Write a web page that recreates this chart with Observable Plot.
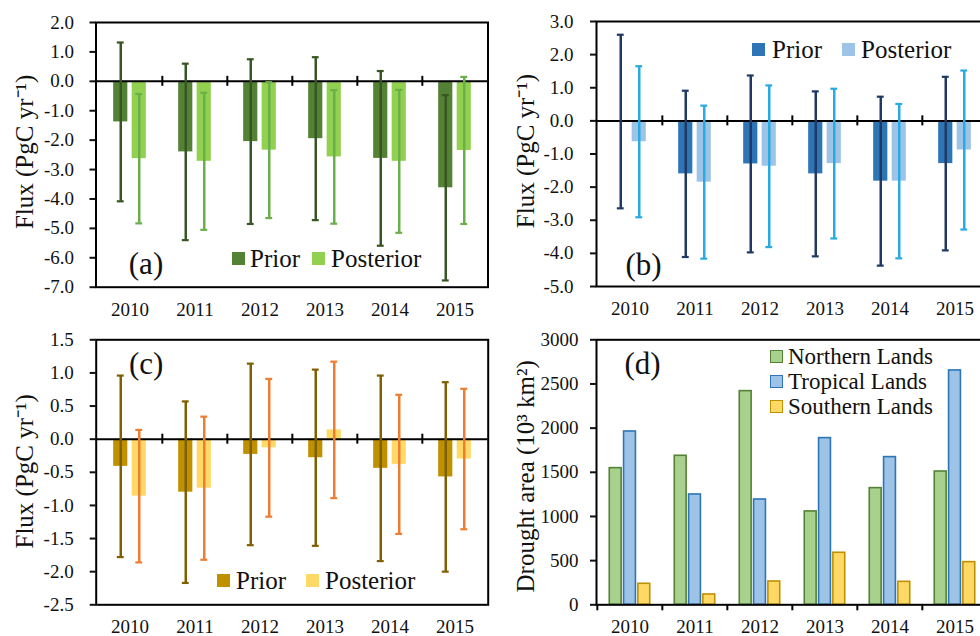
<!DOCTYPE html>
<html>
<head>
<meta charset="utf-8">
<script src="https://cdn.jsdelivr.net/npm/d3@7"></script>
<script src="https://cdn.jsdelivr.net/npm/@observablehq/plot@0.6"></script>
<style>
html, body { margin: 0; padding: 0; background: #fff; overflow: hidden; }
#fig { position: relative; width: 980px; height: 636px; overflow: hidden; font-family: "Liberation Serif", "Times New Roman", serif; color: #111; }
.panel { position: absolute; }
.leg { position: absolute; white-space: nowrap; color: #111; }
.sw { position: absolute; box-sizing: border-box; }
</style>
</head>
<body>
<div id="fig"></div>
<script>
// ---------------- data ----------------
const years = ["2010", "2011", "2012", "2013", "2014", "2015"];

// (a) Northern lands flux, PgC/yr (value and half-width of uncertainty)
const aPrior     = [-1.38, -2.40, -2.05, -1.95, -2.62, -3.62];
const aPriorErr  = [ 2.70,  3.00,  2.80,  2.77,  2.97,  3.15];
const aPost      = [-2.63, -2.72, -2.34, -2.57, -2.72, -2.35];
const aPostErr   = [ 2.20,  2.33,  2.31,  2.27,  2.43,  2.50];

// (b) Tropical lands flux
const bPrior     = [-0.02, -1.60, -1.30, -1.60, -1.82, -1.29];
const bPriorErr  = [ 2.62,  2.51,  2.67,  2.49,  2.55,  2.62];
const bPost      = [-0.63, -1.85, -1.37, -1.29, -1.82, -0.88];
const bPostErr   = [ 2.28,  2.31,  2.44,  2.26,  2.33,  2.40];

// (c) Southern lands flux
const cPrior     = [-0.41, -0.80, -0.23, -0.28, -0.44, -0.57];
const cPriorErr  = [ 1.37,  1.37,  1.37,  1.33,  1.40,  1.43];
const cPost      = [-0.86, -0.74, -0.13,  0.14, -0.38, -0.30];
const cPostErr   = [ 1.00,  1.08,  1.04,  1.03,  1.05,  1.06];

// (d) Drought area, 10^3 km^2
const northernArea = [1547, 1687, 2419, 1057, 1321, 1509];
const tropicalArea = [1962, 1249, 1192, 1887, 1672, 2653];
const southernArea = [ 238,  117,  264,  589,  260,  483];

const fluxTicksA = [2, 1, 0, -1, -2, -3, -4, -5, -6, -7];
const fluxTicksB = [3, 2, 1, 0, -1, -2, -3, -4, -5];
const fluxTicksC = [1.5, 1, 0.5, 0, -0.5, -1, -1.5, -2, -2.5];
const areaTicks  = [0, 500, 1000, 1500, 2000, 2500, 3000];

const fluxLabel = "Flux (PgC yr\u207B\u00B9)";
const areaLabel = "Drought area (10\u00B3 km\u00B2)";
const seriesNames = ["Prior", "Posterior"];
const regionNames = ["Northern Lands", "Tropical Lands", "Southern Lands"];

// ---------------- helpers ----------------
const FONT = '"Liberation Serif", "Times New Roman", serif';
const fig = document.getElementById("fig");

function place(el, left, top) {
  el.classList.add("panel");
  el.style.left = left + "px";
  el.style.top = top + "px";
  fig.appendChild(el);
}

function legendRow(items, cy, fontSize, bordered) {
  for (const it of items) {
    const sw = document.createElement("div");
    sw.className = "sw";
    sw.style.left = it.sx + "px";
    sw.style.top = (cy - 6.5) + "px";
    sw.style.width = "13px";
    sw.style.height = "13px";
    sw.style.background = it.fill;
    if (bordered) sw.style.border = "1.6px solid " + it.stroke;
    fig.appendChild(sw);
    const t = document.createElement("div");
    t.className = "leg";
    t.style.left = it.tx + "px";
    t.style.top = (cy - fontSize / 2) + "px";
    t.style.fontSize = fontSize + "px";
    t.style.lineHeight = fontSize + "px";
    t.textContent = it.label;
    fig.appendChild(t);
  }
}

function fluxPanel(cfg) {
  const {prior, priorErr, post, postErr, domain, ticks, barColors, errColors,
         width, mLeft, mRight, mTop, mBottom, tag, tagAnchor, tagDy, tickPadding, labelDy} = cfg;
  const rows = years.map((y, i) => ({year: y, prior: prior[i], pe: priorErr[i], post: post[i], qe: postErr[i]}));
  const bw = (width - mLeft - mRight) / years.length;
  const off = 9.25, half = 7.25, cap = 3.6;
  return Plot.plot({
    width, height: 318,
    marginLeft: mLeft, marginRight: mRight, marginTop: mTop, marginBottom: mBottom,
    style: {fontFamily: FONT, fontSize: "19px", color: "#111", background: "transparent", overflow: "visible"},
    x: {type: "band", domain: years, padding: 0, axis: null},
    y: {domain, axis: null},
    marks: [
      Plot.barY(rows, {x: "year", y: "prior", fill: barColors[0],
        insetLeft: bw / 2 - off - half, insetRight: bw / 2 + off - half}),
      Plot.barY(rows, {x: "year", y: "post", fill: barColors[1],
        insetLeft: bw / 2 + off - half, insetRight: bw / 2 - off - half}),
      Plot.ruleY([0], {stroke: "#000", strokeWidth: 2}),
      Plot.ruleX(years.slice(1), {x: d => d, y1: 0, y2: 0, insetTop: -5, insetBottom: -5,
        dx: -bw / 2, stroke: "#000", strokeWidth: 2}),
      // prior uncertainty
      Plot.ruleX(rows, {x: "year", y1: d => d.prior - d.pe, y2: d => d.prior + d.pe, dx: -off,
        stroke: errColors[0], strokeWidth: 2.5}),
      Plot.tickY(rows, {x: "year", y: d => d.prior + d.pe, dx: -off, insetLeft: bw / 2 - cap, insetRight: bw / 2 - cap,
        stroke: errColors[0], strokeWidth: 2.2}),
      Plot.tickY(rows, {x: "year", y: d => d.prior - d.pe, dx: -off, insetLeft: bw / 2 - cap, insetRight: bw / 2 - cap,
        stroke: errColors[0], strokeWidth: 2.2}),
      // posterior uncertainty
      Plot.ruleX(rows, {x: "year", y1: d => d.post - d.qe, y2: d => d.post + d.qe, dx: off,
        stroke: errColors[1], strokeWidth: 2.5}),
      Plot.tickY(rows, {x: "year", y: d => d.post + d.qe, dx: off, insetLeft: bw / 2 - cap, insetRight: bw / 2 - cap,
        stroke: errColors[1], strokeWidth: 2.2}),
      Plot.tickY(rows, {x: "year", y: d => d.post - d.qe, dx: off, insetLeft: bw / 2 - cap, insetRight: bw / 2 - cap,
        stroke: errColors[1], strokeWidth: 2.2}),
      Plot.frame({stroke: "#000", strokeWidth: 2}),
      Plot.axisY({ticks, tickSize: 6, tickPadding, tickFormat: d => d.toFixed(1), strokeWidth: 2, fontSize: 19, label: null}),
      Plot.axisX({tickSize: 0, tickPadding: 15, fontSize: 19, label: null}),
      Plot.text([fluxLabel], {text: d => d, frameAnchor: "left", dx: -71, dy: labelDy, rotate: -90,
        textAnchor: "middle", lineAnchor: "middle", fontSize: 25, fill: "#111"}),
      Plot.text([tag], {text: d => d, frameAnchor: tagAnchor, dx: cfg.tagDx, dy: tagDy,
        textAnchor: "middle", lineAnchor: "middle", fontSize: 31, fill: "#111"})
    ]
  });
}

// ---------------- panels ----------------
const pa = fluxPanel({
  prior: aPrior, priorErr: aPriorErr, post: aPost, postErr: aPostErr,
  domain: [-7, 2], ticks: fluxTicksA,
  barColors: ["#548235", "#92D050"], errColors: ["#375623", "#6AB04A"],
  width: 490, mLeft: 95.5, mRight: 2.5, mTop: 22, mBottom: 31.3,
  tag: "(a)", tagAnchor: "bottom-left", tagDx: 50, tagDy: -23, tickPadding: 16, labelDy: -3
});
place(pa, 0, 0);

const pb = fluxPanel({
  prior: bPrior, priorErr: bPriorErr, post: bPost, postErr: bPostErr,
  domain: [-5, 3], ticks: fluxTicksB,
  barColors: ["#2E75B6", "#9DC3E6"], errColors: ["#203864", "#29ABE2"],
  width: 510, mLeft: 106, mRight: 12, mTop: 21, mBottom: 32,
  tag: "(b)", tagAnchor: "bottom-left", tagDx: 47, tagDy: -21, tickPadding: 17, labelDy: -3
});
place(pb, 490, 0);

const pc = fluxPanel({
  prior: cPrior, priorErr: cPriorErr, post: cPost, postErr: cPostErr,
  domain: [-2.5, 1.5], ticks: fluxTicksC,
  barColors: ["#BF9000", "#FFD966"], errColors: ["#7F6000", "#ED7D31"],
  width: 490, mLeft: 95.7, mRight: 2.3, mTop: 21.3, mBottom: 31.7,
  tag: "(c)", tagAnchor: "top-left", tagDx: 50, tagDy: 24, tickPadding: 16.5, labelDy: -1
});
place(pc, 0, 318);

// (d) drought area
{
  const rows = years.map((y, i) => ({year: y, n: northernArea[i], t: tropicalArea[i], s: southernArea[i]}));
  const width = 510, mLeft = 106, mRight = 12;
  const bw = (width - mLeft - mRight) / years.length;
  const half = 6.1, step = 14.3;
  const ins = k => ({insetLeft: bw / 2 + k * step - half, insetRight: bw / 2 - k * step - half});
  const pd = Plot.plot({
    width, height: 318,
    marginLeft: mLeft, marginRight: mRight, marginTop: 21.3, marginBottom: 31.7,
    style: {fontFamily: FONT, fontSize: "19px", color: "#111", background: "transparent", overflow: "visible"},
    x: {type: "band", domain: years, padding: 0, axis: null},
    y: {domain: [0, 3000], axis: null},
    marks: [
      Plot.barY(rows, {x: "year", y: "n", fill: "#A9D18E", stroke: "#548235", strokeWidth: 1.6, ...ins(-1)}),
      Plot.barY(rows, {x: "year", y: "t", fill: "#9DC3E6", stroke: "#2E75B6", strokeWidth: 1.6, ...ins(0)}),
      Plot.barY(rows, {x: "year", y: "s", fill: "#FFD966", stroke: "#BF9000", strokeWidth: 1.6, ...ins(1)}),
      Plot.frame({stroke: "#000", strokeWidth: 2}),
      Plot.ruleX(years, {x: d => d, y1: 0, y2: 0, insetTop: 0, insetBottom: -6,
        dx: -bw / 2, stroke: "#000", strokeWidth: 2}),
      Plot.axisY({ticks: areaTicks, tickSize: 6, tickPadding: 12, tickFormat: d => String(d), strokeWidth: 2, fontSize: 19, label: null}),
      Plot.axisX({tickSize: 0, tickPadding: 15, fontSize: 19, label: null}),
      Plot.text([areaLabel], {text: d => d, frameAnchor: "left", dx: -71, dy: 4, rotate: -90,
        textAnchor: "middle", lineAnchor: "middle", fontSize: 25, fill: "#111"}),
      Plot.text(["(d)"], {text: d => d, frameAnchor: "top-left", dx: 46, dy: 24,
        textAnchor: "middle", lineAnchor: "middle", fontSize: 31, fill: "#111"})
    ]
  });
  place(pd, 490, 318);
}

// ---------------- legends ----------------
legendRow([
  {sx: 232, tx: 250, fill: "#548235", label: seriesNames[0]},
  {sx: 312, tx: 331, fill: "#92D050", label: seriesNames[1]}
], 258, 25, false);
legendRow([
  {sx: 752, tx: 772, fill: "#2E75B6", label: seriesNames[0]},
  {sx: 842, tx: 861, fill: "#9DC3E6", label: seriesNames[1]}
], 49, 25, false);
legendRow([
  {sx: 217, tx: 236, fill: "#BF9000", label: seriesNames[0]},
  {sx: 306, tx: 325, fill: "#FFD966", label: seriesNames[1]}
], 580, 25, false);
legendRow([{sx: 770, tx: 788, fill: "#A9D18E", stroke: "#548235", label: regionNames[0]}], 356, 23, true);
legendRow([{sx: 770, tx: 788, fill: "#9DC3E6", stroke: "#2E75B6", label: regionNames[1]}], 381, 23, true);
legendRow([{sx: 770, tx: 788, fill: "#FFD966", stroke: "#BF9000", label: regionNames[2]}], 406, 23, true);
</script>
</body>
</html>
